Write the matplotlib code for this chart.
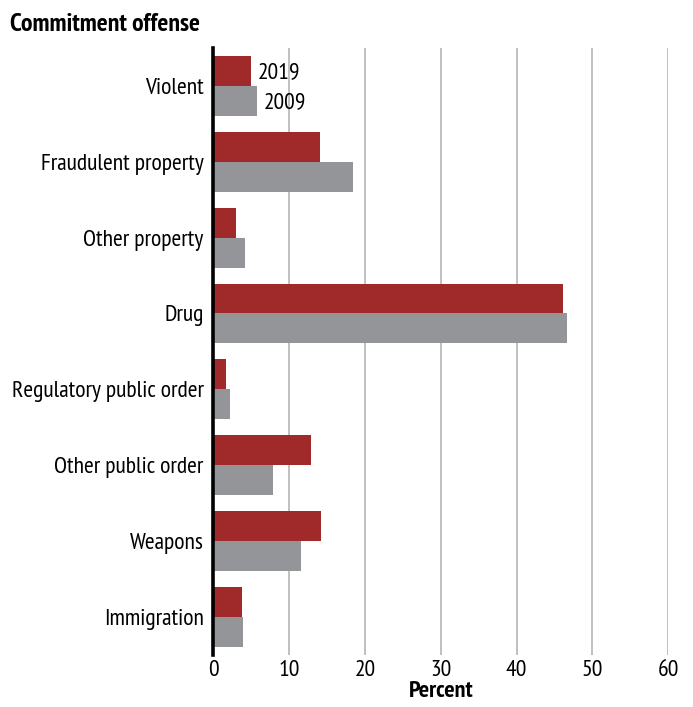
import numpy as np
import matplotlib.pyplot as plt

categories = ['Violent', 'Fraudulent property', 'Other property', 'Drug',
              'Regulatory public order', 'Other public order', 'Weapons', 'Immigration']
pct_2019 = [4.9, 14.1, 3.0, 46.1, 1.6, 12.9, 14.2, 3.8]
pct_2009 = [5.7, 18.4, 4.2, 46.6, 2.2, 7.9, 11.6, 3.9]
xticks = [0, 10, 20, 30, 40, 50, 60]

plt.rcParams['font.family'] = ['PT Sans Narrow', 'Fira Sans Condensed', 'DejaVu Sans']

red = '#a0292a'
grey = '#939598'

fig = plt.figure(figsize=(6.93, 7.07), dpi=100)
ax = fig.add_axes([0.308, 0.074, 0.656, 0.858])

y = np.arange(len(categories))
h = 0.395
ax.barh(y - h / 2, pct_2019, height=h, color=red, zorder=3)
ax.barh(y + h / 2, pct_2009, height=h, color=grey, zorder=3)

ax.set_ylim(len(categories) - 0.5, -0.5)
ax.set_xlim(0, 60)
ax.set_yticks(y)
ax.set_yticklabels(categories, fontsize=17)
ax.set_xticks(xticks)
ax.set_xticklabels([str(t) for t in xticks], fontsize=17)
ax.tick_params(axis='both', length=0)
ax.tick_params(axis='y', pad=7)
ax.tick_params(axis='x', pad=4)

ax.grid(axis='x', color='#b5b5b5', linewidth=1.2, zorder=0)
for s in ['top', 'right', 'bottom']:
    ax.spines[s].set_visible(False)
ax.spines['left'].set_linewidth(2.6)
ax.spines['left'].set_zorder(4)

ax.text(pct_2019[0] + 0.9, y[0] - h / 2 + 0.02, '2019', fontsize=17, va='center', ha='left')
ax.text(pct_2009[0] + 1.0, y[0] + h / 2 + 0.02, '2009', fontsize=17, va='center', ha='left')

ax.set_xlabel('Percent', fontsize=17.5, fontweight='bold', labelpad=0)
fig.text(0.014, 0.966, 'Commitment offense', fontsize=18.5, fontweight='bold', va='center', ha='left')

fig.savefig('out.png', dpi=100)
